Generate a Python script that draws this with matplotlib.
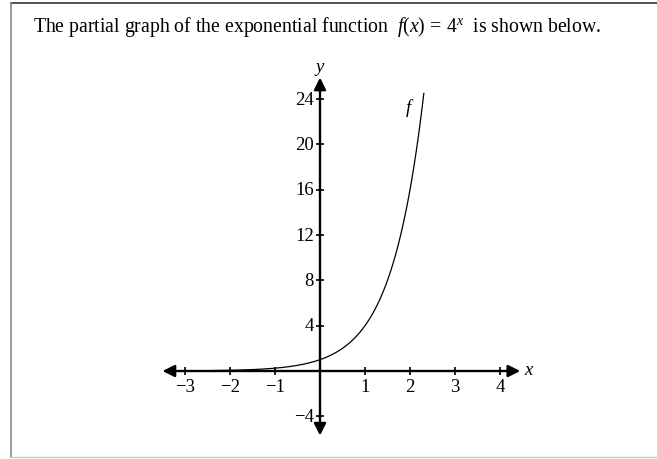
"""Partial graph of f(x) = 4^x drawn on hand-made axes with arrows."""

import matplotlib

matplotlib.use("Agg")
import matplotlib.pyplot as plt
import numpy as np
from matplotlib.lines import Line2D

plt.rcParams["font.family"] = ["Liberation Serif", "DejaVu Serif"]
plt.rcParams["mathtext.fontset"] = "custom"
plt.rcParams["mathtext.rm"] = "Liberation Serif"
plt.rcParams["mathtext.it"] = "Liberation Serif:italic"

# axis ticks and curve domain
x_ticks = [-3, -2, -1, 1, 2, 3, 4]
y_ticks = [-4, 4, 8, 12, 16, 20, 24]
x_arrow = (-3.5, 4.45)
y_arrow = (-5.7, 25.9)
x_start, y_top = -2.38, 24.5
base = 4

fig = plt.figure(figsize=(6.57, 4.60), dpi=100)
ax = fig.add_axes([0, 0, 1, 1])
ax.set_xlim(-320 / 45, 337 / 45)
ax.set_ylim(-88 / 11.33, 372 / 11.33)
ax.axis("off")

# outer frame
fig.add_artist(Line2D([11 / 657, 1], [1 - 4 / 460] * 2, color="#333333", lw=1.2))
fig.add_artist(Line2D([11 / 657] * 2, [2 / 460, 1 - 4 / 460], color="#888888", lw=1.2))
fig.add_artist(Line2D([11 / 657, 1], [2 / 460] * 2, color="#cccccc", lw=1.0))

fig.text(33 / 657, 1 - 27 / 460,
         r"The partial graph of the exponential function  $f(x)\,=\,4^x$  is shown below.",
         fontsize=14.2, va="center", ha="left")

arrow = dict(arrowstyle="<|-|>", color="black", lw=1.7, mutation_scale=18,
             shrinkA=0, shrinkB=0)
ax.annotate("", xy=(x_arrow[1], 0), xytext=(x_arrow[0], 0), arrowprops=arrow)
ax.annotate("", xy=(0, y_arrow[1]), xytext=(0, y_arrow[0]), arrowprops=arrow)

ax.plot(x_ticks, [0] * len(x_ticks), ls="none", marker="|", ms=6, mew=1.2, color="black")
ax.plot([0] * len(y_ticks), y_ticks, ls="none", marker="_", ms=6, mew=1.2, color="black")

for t in x_ticks:
    ax.annotate(f"{t}".replace("-", "\u2212"), (t, 0), xytext=(0, -5),
                textcoords="offset points", ha="center", va="top", fontsize=13.5)
for t in y_ticks:
    ax.annotate(f"{t}".replace("-", "\u2212"), (0, t), xytext=(-4.5, 0),
                textcoords="offset points", ha="right", va="center", fontsize=13.5)

ax.annotate("x", (x_arrow[1], 0), xytext=(3, 1), textcoords="offset points",
            ha="left", va="center", fontsize=13.5, style="italic")
ax.annotate("y", (0, y_arrow[1]), xytext=(0, 2), textcoords="offset points",
            ha="center", va="bottom", fontsize=13.5, style="italic")

xs = np.linspace(x_start, np.log(y_top) / np.log(base), 400)
ax.plot(xs, base ** xs, color="black", lw=0.9)
ax.text(1.96, 23.3, "f", fontsize=13.5, style="italic", ha="center", va="center")

fig.savefig("out.png", dpi=100)
